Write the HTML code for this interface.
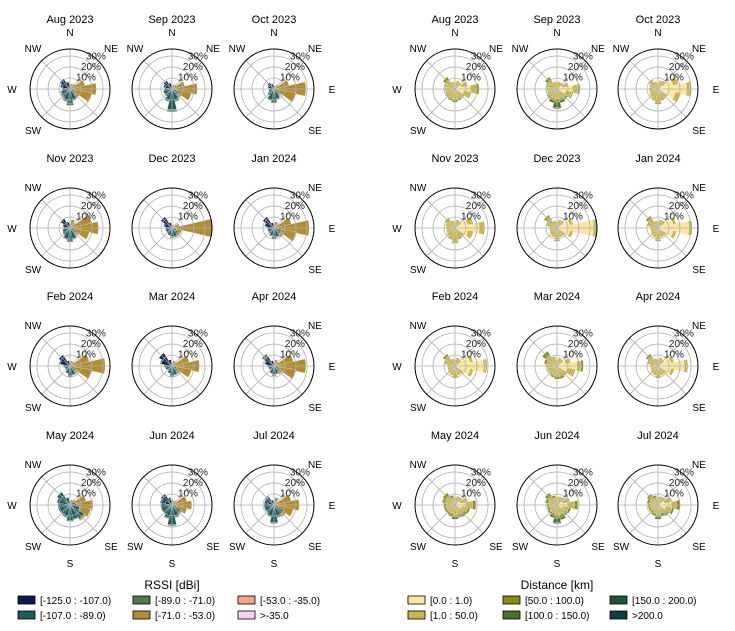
<!DOCTYPE html>
<html><head><meta charset="utf-8"><style>
html,body{margin:0;padding:0;background:#fff;}
svg{display:block;font-family:"Liberation Sans","DejaVu Sans",sans-serif;}
</style></head><body>
<svg id="fig" width="735" height="631" viewBox="0 0 735 631" xmlns="http://www.w3.org/2000/svg">
<g id="plots"></g>
<g id="legends"></g>
</svg>
<script>
// Months
const months = ["Aug 2023","Sep 2023","Oct 2023","Nov 2023","Dec 2023","Jan 2024","Feb 2024","Mar 2024","Apr 2024","May 2024","Jun 2024","Jul 2024"];
// Sector order: N,NNE,NE,ENE,E,ESE,SE,SSE,S,SSW,SW,WSW,W,WNW,NW,NNW (values in %)
const rssiBins = ["[-125.0 : -107.0)","[-107.0 : -89.0)","[-89.0 : -71.0)","[-71.0 : -53.0)","[-53.0 : -35.0)",">-35.0"];
const rssiNavy = [
[1,1,1,1,1,1,1,1,1,1,1,2,3,7,11,6],
[1,1,1,1,1,1,1,1,1,1,1,2,3,6,9,5],
[1,1,1,1,1,1,1,1,1,1,1,1,2,5,7,4],
[1,1,1,1,1,1,1,1,1,1,1,2,3,6,10,5],
[1,1,1,1,1,1,1,1,1,1,1,2,3,7,12,5],
[1,1,1,1,1,1,1,1,1,1,1,2,3,8,12,5],
[1,1,1,1,1,1,1,1,1,1,1,2,4,9,12,5],
[1,1,1,1,1,1,1,1,1,1,1,3,5,10,14,6],
[1,1,1,1,1,1,1,1,1,1,1,2,4,8,10,5],
[1,1,1,1,1,1,1,1,1,1,1,1,1,1,2,1],
[2,1,1,1,1,1,2,2,2,3,3,3,3,6,10,5],
[1,1,1,1,1,1,1,2,2,3,3,3,3,5,8,4]];
const rssiTeal = [
[1,1,1,1,2,3,5,9,12,10,8,6,4,2,0,1],
[1,1,1,1,1,3,6,10,18,10,7,6,4,2,0,1],
[1,0,1,1,1,3,5,8,11,9,6,4,3,1,0,1],
[1,1,1,1,1,3,5,9,11,9,7,5,3,1,0,1],
[0,0,0,1,1,3,6,7,7,6,5,4,3,1,0,0],
[0,1,1,1,1,3,6,7,7,6,5,4,3,1,0,0],
[0,1,1,1,1,3,5,7,8,6,4,3,2,1,0,0],
[0,1,1,1,1,3,5,7,8,6,4,3,2,1,0,0],
[0,1,1,1,1,3,5,6,7,6,4,3,2,1,1,0],
[1,2,2,4,5,8,14,12,13,10,10,10,10,11,12,6],
[2,1,1,1,1,3,7,9,16,9,7,7,7,5,2,2],
[1,1,1,1,1,3,9,9,14,8,6,6,6,4,1,1]];
const rssiGreen = [
[0,0,0,0,0,0,1,1,2,1,1,1,0,0,0,0],
[0,0,0,0,0,0,1,1,2,1,0,0,0,0,0,0],
[0,0,0,0,0,0,0,1,1,1,0,0,0,0,0,0],
[0,0,0,0,0,0,1,1,1,1,0,0,0,0,0,0],
[0,0,0,0,0,0,0,1,1,0,0,0,0,0,0,0],
[0,0,0,0,2,3,1,1,2,1,0,0,0,0,0,0],
[0,0,0,0,0,0,1,1,1,0,0,0,0,0,0,0],
[0,0,0,0,0,0,1,1,1,0,0,0,0,0,0,0],
[0,0,0,0,0,0,1,1,1,0,0,0,0,0,2,0],
[0,0,0,0,0,0,1,1,1,1,0,0,0,0,0,0],
[0,0,0,0,0,0,1,1,1,1,0,0,0,0,0,0],
[0,0,0,0,0,0,1,1,1,0,0,0,0,0,1,0]];
const rssiGold = [
[2,3,4,12,21,16,3,0,0,0,0,0,0,0,0,0],
[1,2,3,10,21,14,2,0,0,0,0,0,0,0,0,0],
[1,2,3,12,27,16,2,0,0,0,0,0,0,0,0,0],
[2,6,4,18,24,14,2,0,0,0,0,0,0,0,0,0],
[1,2,2,5,35,5,2,0,0,0,0,0,0,0,0,0],
[1,4,3,14,28,14,2,0,0,0,0,0,0,0,0,0],
[1,3,3,16,30,16,2,0,0,0,0,0,0,0,0,0],
[1,3,3,14,23,14,2,0,0,0,0,0,0,0,0,0],
[1,4,3,16,27,16,2,0,0,0,0,0,0,0,0,0],
[1,2,3,10,15,10,1,0,0,0,0,0,0,0,0,0],
[1,2,3,12,16,10,1,0,0,0,0,0,0,0,0,0],
[1,5,2,14,21,14,2,0,0,0,0,0,0,0,0,0]];
const distBins = ["[0.0 : 1.0)","[1.0 : 50.0)","[50.0 : 100.0)","[100.0 : 150.0)","[150.0 : 200.0)",">200.0"];
const distNear = [
[0,1,1,6,14,8,1,0,0,0,0,0,0,0,0,0],
[0,1,1,5,14,8,1,0,0,0,0,0,0,0,0,0],
[0,1,2,14,26,16,1,0,0,0,0,0,0,0,0,0],
[0,1,1,12,22,12,1,0,0,0,0,0,0,0,0,0],
[0,1,2,12,33,12,1,0,0,0,0,0,0,0,0,0],
[0,1,2,14,28,14,1,0,0,0,0,0,0,0,0,0],
[0,1,1,14,26,14,1,0,0,0,0,0,0,0,0,0],
[0,1,1,8,18,10,1,0,0,0,0,0,0,0,0,0],
[0,1,1,12,24,12,1,0,0,0,0,0,0,0,0,0],
[0,1,1,5,10,6,1,0,0,0,0,0,0,0,0,0],
[0,1,1,5,10,5,1,0,0,0,0,0,0,0,0,0],
[0,1,1,6,12,7,1,0,0,0,0,0,0,0,0,0]];
const distKhaki = [
[6,7,6,6,6,6,8,9,9,9,9,8,8,9,10,7],
[6,6,6,6,5,6,9,9,9,9,9,8,8,9,10,7],
[6,7,7,5,3,5,9,10,13,10,9,8,8,8,9,7],
[6,7,6,5,4,5,9,10,13,10,9,8,8,9,10,7],
[6,7,6,3,2,3,8,9,11,9,8,7,7,9,12,7],
[6,7,6,3,2,3,8,9,11,9,8,7,7,9,11,7],
[6,7,6,3,2,3,8,9,10,9,8,7,7,9,11,7],
[6,7,6,5,4,6,9,10,10,9,8,8,8,10,12,8],
[6,7,6,3,2,3,8,9,10,9,8,7,7,9,11,7],
[6,6,6,6,6,6,9,9,9,8,8,8,8,9,9,7],
[6,6,6,6,6,6,8,9,9,8,8,7,7,8,9,7],
[6,6,6,6,5,6,8,8,9,8,7,7,7,8,9,7]];
const distOlive = [
[0,0,0,0,2,1,1,2,2,2,1,1,1,1,3,0],
[0,0,0,0,2,1,1,2,3,2,1,1,1,1,3,0],
[0,0,0,0,1,0,0,1,1,1,0,0,0,0,1,0],
[0,0,0,0,1,0,0,1,1,1,0,0,0,0,1,0],
[0,0,0,0,1,0,0,0,1,0,0,0,0,1,2,0],
[0,0,0,0,1,0,0,0,1,0,0,0,0,1,2,0],
[0,0,0,0,1,0,0,0,1,0,0,0,0,1,2,0],
[0,0,0,0,2,1,1,2,2,2,1,1,1,2,4,1],
[0,0,0,0,1,0,0,0,1,0,0,0,0,1,2,0],
[1,1,1,1,3,2,2,2,2,2,2,2,2,3,4,2],
[1,1,1,1,3,2,2,3,3,2,2,2,2,3,4,2],
[1,1,1,1,3,2,2,2,2,2,2,2,2,2,3,2]];
const distDark = [
[0,0,0,0,0,0,0,0,1,0,0,0,0,0,0,0],
[0,0,0,0,0,0,1,2,5,2,1,0,0,0,0,0],
[0,0,0,0,0,0,0,0,0,0,0,0,0,0,0,0],
[0,0,0,0,0,0,0,0,0,0,0,0,0,0,0,0],
[0,0,0,0,0,0,0,0,0,0,0,0,0,0,0,0],
[0,0,0,0,0,0,0,0,0,0,0,0,0,0,0,0],
[0,0,0,0,0,0,0,0,0,0,0,0,0,0,0,0],
[0,0,0,0,0,0,0,0,0,0,0,0,0,0,0,0],
[0,0,0,0,0,0,0,0,0,0,0,0,0,0,0,0],
[0,0,0,0,0,0,1,1,2,1,0,0,0,0,0,0],
[0,0,0,0,0,0,1,2,4,2,0,0,0,0,0,0],
[0,0,0,0,0,0,1,1,2,0,0,0,0,0,0,0]];
const distFar = [
[0,0,0,0,0,0,0,0,0,0,0,0,0,0,0,0],
[0,0,0,0,0,0,0,0,1,0,0,0,0,0,0,0],
[0,0,0,0,0,0,0,0,0,0,0,0,0,0,0,0],
[0,0,0,0,0,0,0,0,0,0,0,0,0,0,0,0],
[0,0,0,0,0,0,0,0,0,0,0,0,0,0,0,0],
[0,0,0,0,0,0,0,0,0,0,0,0,0,0,0,0],
[0,0,0,0,0,0,0,0,0,0,0,0,0,0,0,0],
[0,0,0,0,0,0,0,0,0,0,0,0,0,0,0,0],
[0,0,0,0,0,0,0,0,0,0,0,0,0,0,0,0],
[0,0,0,0,0,0,0,0,0,0,0,0,0,0,0,0],
[0,0,0,0,0,0,0,0,1,0,0,0,0,0,0,0],
[0,0,0,0,0,0,0,0,0,0,0,0,0,0,0,0]];
const rTicks = [10,20,30];
const rTickLabels = ["10%","20%","30%"];

const rssiColors = ["#0b1a4f","#1d5b62","#4f7848","#b08d33","#f4a384","#fbd0f5"];
const distColors = ["#fbe6a0","#cbb64a","#8a8c14","#4a7125","#21543a","#0c4048"];
const NS = "http://www.w3.org/2000/svg";
const PX = 1.1, ROUT = 40, HALF = 13;
function rScale(v){ return v*PX; }
function mk(tag, attrs, parent){ const e=document.createElementNS(NS,tag); for(const k in attrs) e.setAttribute(k,attrs[k]); parent.appendChild(e); return e; }
function pt(cx,cy,r,deg){ const a=deg*Math.PI/180; return [cx+r*Math.sin(a), cy-r*Math.cos(a)]; }
function wedge(cx,cy,r0,r1,a0,a1){
  const p1=pt(cx,cy,r1,a0), p2=pt(cx,cy,r1,a1), p3=pt(cx,cy,r0,a1), p4=pt(cx,cy,r0,a0);
  return `M${p1[0]},${p1[1]} A${r1},${r1} 0 0 1 ${p2[0]},${p2[1]} L${p3[0]},${p3[1]} A${r0},${r0} 0 0 0 ${p4[0]},${p4[1]} Z`;
}
const plots=document.getElementById('plots');
const colX=[[70,172,274],[455,557,658]];
const rowY=[89,228,366,505];
const dirLabels=["N","NE","E","SE","S","SW","W","NW"];
const dirOff={N:[0,-53],NE:[41,-37],E:[58,4],SE:[41,45],S:[0,62],SW:[-37,45],W:[-58,4],NW:[-37,-37]};
function labelsFor(row,col){
  const s=new Set();
  if(row===0){s.add("N");s.add("NW");s.add("NE");}
  if(col===0){s.add("NW");s.add("W");s.add("SW");}
  if(col===2){s.add("NE");s.add("E");s.add("SE");}
  if(row===3){s.add("S");if(col>0)s.add("SW");s.add("SE");}
  return s;
}
function drawRose(side, m, layers, colors, name){
  const row=Math.floor(m/3), col=m%3, cx=colX[side][col], cy=rowY[row];
  const g=mk('g',{},plots);
  
  
  const t=mk('text',{x:cx,y:cy-66,'text-anchor':'middle','font-size':'11',fill:'#000'},g);
  t.textContent=months[m];
  
  
  for(let s=0;s<16;s++){
    let acc=0;
    for(let b=0;b<layers.length;b++){
      const v=layers[b][m][s]||0; if(v<=0) continue;
      const r0=rScale(acc), r1=rScale(acc+v); acc+=v;
      const c=s*22.5;
      const p=mk('path',{d:wedge(cx,cy,r0,r1,c-HALF,c+HALF),fill:colors[b],stroke:'#fff','stroke-width':'0.3'},g);
      
      
    }
  }
  rTicks.forEach((v,i)=>{
    const c=mk('circle',{cx:cx,cy:cy,r:rScale(v),fill:'none',stroke:'#b0b0b0','stroke-width':'0.8'},g);
    
    
  });
  for(let k=0;k<8;k++){
    const e=pt(cx,cy,ROUT,k*45);
    const l=mk('line',{x1:cx,y1:cy,x2:e[0],y2:e[1],stroke:'#b0b0b0','stroke-width':'0.8'},g);
    
    
  }
  const oc=mk('circle',{cx:cx,cy:cy,r:ROUT,fill:'none',stroke:'#000','stroke-width':'1'},g);
  
  
  rTicks.forEach((v,i)=>{
    const r=rScale(v);
    const tt=mk('text',{x:cx+r*0.45+1,y:cy-r*0.95+2,'font-size':'10',fill:'#222'},g);
    tt.textContent=rTickLabels[i];
    
    
  });
  const ls=labelsFor(row,col);
  dirLabels.forEach(d=>{
    if(!ls.has(d)) return;
    const o=dirOff[d];
    const tx=mk('text',{x:cx+o[0],y:cy+o[1],'text-anchor':'middle','font-size':'10',fill:'#000'},g);
    tx.textContent=d;
    
    
  });
}
for(let m=0;m<12;m++){
  drawRose(0,m,[rssiNavy,rssiTeal,rssiGreen,rssiGold],rssiColors,'rssi');
  drawRose(1,m,[distNear,distKhaki,distOlive,distDark,distFar],distColors,'distance');
}
const lg=document.getElementById('legends');
function legend(title,tx,bins,colors,px,name){
  const g=mk('g',{},lg);
  
  
  const t=mk('text',{x:tx,y:589,'text-anchor':'middle','font-size':'12',fill:'#000'},g);
  t.textContent=title;
  
  
  bins.forEach((b,i)=>{
    const c=Math.floor(i/2), r=i%2, x=px[c], y=596+r*15;
    const rc=mk('rect',{x:x,y:y,width:17,height:8,fill:colors[i],stroke:'#000','stroke-width':'0.8'},g);
    
    
    const tt=mk('text',{x:x+22,y:y+8,'font-size':'10',fill:'#000'},g);
    tt.textContent=b;
    
    
  });
}
legend('RSSI [dBi]',172,rssiBins,rssiColors,[18,133,238],'rssi-legend');
legend('Distance [km]',557,distBins,distColors,[408,503,610],'distance-legend');
</script>
</body></html>
